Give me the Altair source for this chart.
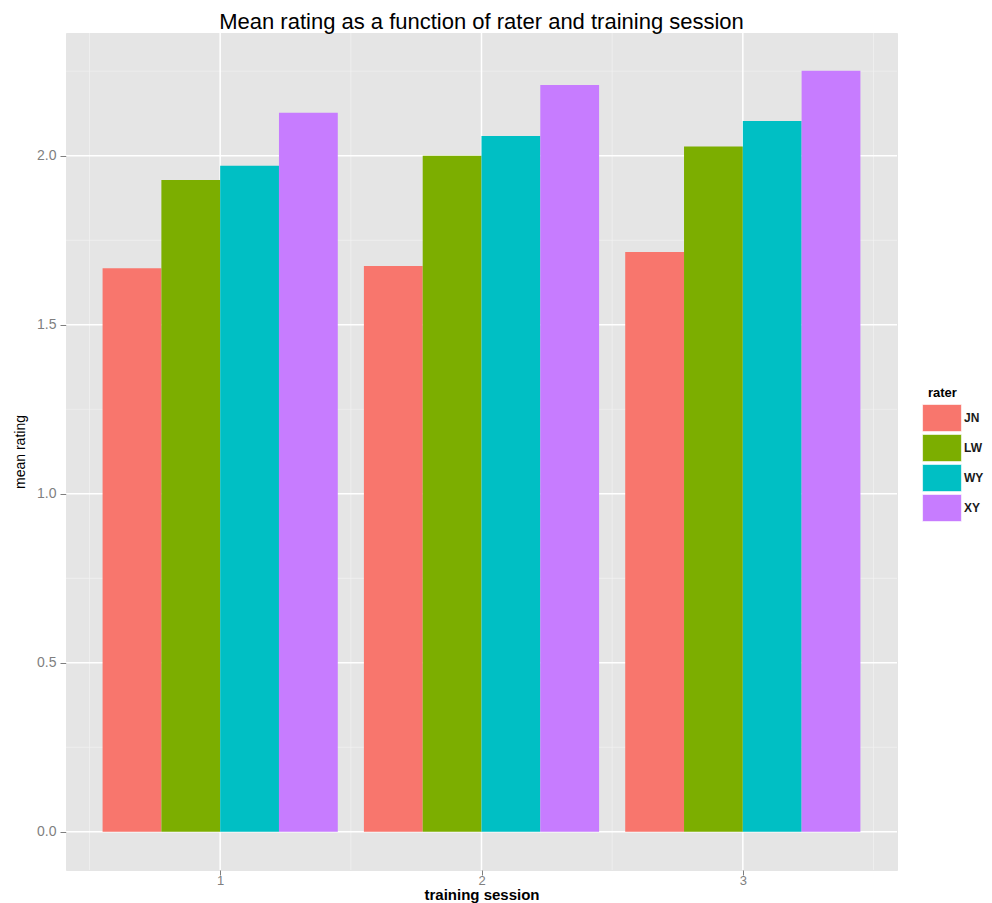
import altair as alt
import pandas as pd

raters = ["JN", "LW", "WY", "XY"]
colors = ["#F8766D", "#7CAE00", "#00BFC4", "#C77CFF"]
sessions = [1, 2, 3]
jn = [1.667, 1.674, 1.715]
lw = [1.928, 2.000, 2.027]
wy = [1.970, 2.058, 2.103]
xy = [2.127, 2.209, 2.251]

x_major = [1, 2, 3]
x_minor = [0.5, 1.5, 2.5, 3.5]
y_major = [0.0, 0.5, 1.0, 1.5, 2.0]
y_minor = [0.25, 0.75, 1.25, 1.75, 2.25]

series = {"JN": jn, "LW": lw, "WY": wy, "XY": xy}
rows = []
for r in raters:
    for s, v in zip(sessions, series[r]):
        rows.append({"session": s, "rater": r, "value": v})
df = pd.DataFrame(rows)

XDOM = [0.41, 3.59]
YDOM = [-0.113, 2.363]
xs = alt.Scale(domain=XDOM, nice=False, zero=False)
ys = alt.Scale(domain=YDOM, nice=False, zero=False)

GRAY = "#7F7F7F"
FONT = "Liberation Sans"

xaxis = alt.Axis(values=x_major, grid=False, domain=False, tickColor=GRAY, tickSize=5,
                 labelColor=GRAY, labelFontSize=13, labelPadding=-1, labelFont=FONT,
                 title="training session", titleFont=FONT, titleFontSize=15,
                 titleFontWeight="bold", titleColor="black", titleY=29,
                 titleBaseline="alphabetic", format="d")
yaxis = alt.Axis(values=y_major, grid=False, domain=False, tickColor=GRAY, tickSize=6,
                 labelColor=GRAY, labelFontSize=14, labelPadding=4, labelFont=FONT,
                 format=".1f", title="mean rating", titleFont=FONT, titleFontSize=14,
                 titleFontWeight="normal", titleColor="black", titlePadding=9)

minor_x = alt.Chart(pd.DataFrame({"v": x_minor})).mark_rule(color="#F2F2F2", strokeWidth=0.7).encode(
    x=alt.X("v:Q", scale=xs, axis=xaxis))
minor_y = alt.Chart(pd.DataFrame({"v": y_minor})).mark_rule(color="#F2F2F2", strokeWidth=0.7).encode(
    y=alt.Y("v:Q", scale=ys, axis=yaxis))
major_x = alt.Chart(pd.DataFrame({"v": x_major})).mark_rule(color="white", strokeWidth=1.5).encode(
    x=alt.X("v:Q", scale=xs, axis=xaxis))
major_y = alt.Chart(pd.DataFrame({"v": y_major})).mark_rule(color="white", strokeWidth=1.5).encode(
    y=alt.Y("v:Q", scale=ys, axis=yaxis))

legend = alt.Legend(title="rater", orient="none", legendX=862, legendY=354,
                    symbolType="M-1.44,-1H1.44V1H-1.44Z", symbolSize=729,
                    symbolStrokeColor="white", symbolStrokeWidth=0.6, symbolOpacity=1,
                    titleFont=FONT, titleFontSize=13, titleFontWeight="bold", titleColor="black",
                    titlePadding=4, labelFont=FONT, labelFontSize=12, labelFontWeight="bold",
                    labelColor="#1a1a1a", labelOffset=8, rowPadding=0, padding=0,
                    labelLimit=40)

bars = alt.Chart(df).transform_calculate(
    idx="indexof(['JN','LW','WY','XY'], datum.rater)"
).transform_calculate(
    x0="datum.session - 0.45 + datum.idx * 0.225",
    x1="datum.session - 0.45 + (datum.idx + 1) * 0.225",
    base="0"
).mark_rect().encode(
    x=alt.X("x0:Q", scale=xs, axis=xaxis),
    x2="x1:Q",
    y=alt.Y("value:Q", scale=ys, axis=yaxis),
    y2="base:Q",
    color=alt.Color("rater:N", scale=alt.Scale(domain=raters, range=colors), legend=legend),
)

chart = alt.layer(minor_x, minor_y, major_x, major_y, bars).properties(
    width=831, height=837,
    background="white",
    title=alt.TitleParams("Mean rating as a function of rater and training session",
                          font=FONT, fontSize=22, fontWeight="normal", color="black",
                          anchor="middle", offset=-2),
    autosize=alt.AutoSizeParams(type="none"),
    padding={"left": 58, "top": 25, "right": 87, "bottom": 33},
).configure_view(fill="#E5E5E5", stroke="#E5E5E5")

chart.save("out.html", embed_options={"renderer": "svg", "actions": False})
